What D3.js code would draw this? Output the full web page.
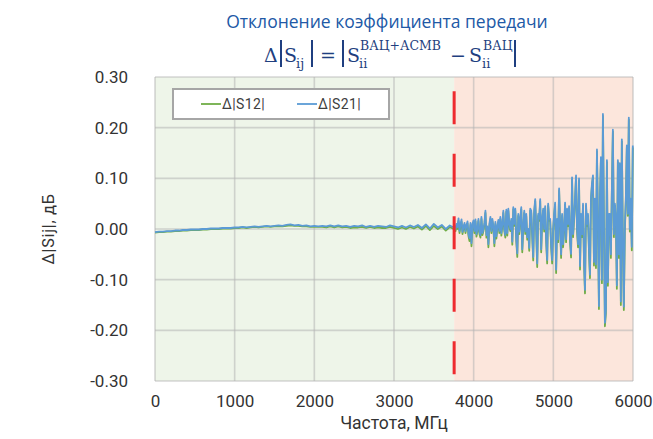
<!DOCTYPE html>
<html><head><meta charset="utf-8">
<script src="https://cdn.jsdelivr.net/npm/d3@7"></script>
<style>body{margin:0;background:#fff}svg{display:block}</style>
</head><body>
<svg id="c" width="653" height="439"></svg>
<script>
// ---- data ----
const xTicks = [0,1000,2000,3000,4000,5000,6000];
const yTicks = [-0.3,-0.2,-0.1,0,0.1,0.2,0.3];
const boundaryFreq = 3755;
const lfStep = 50; // 0..3750
const lfS21 = [
-0.006,-0.005,-0.005,-0.004,-0.004,-0.003,-0.003,-0.002,-0.002,-0.001,
-0.001,-0.001,0.000,0.000,0.001,0.001,0.001,0.002,0.002,0.002,
0.003,0.003,0.004,0.003,0.004,0.005,0.004,0.005,0.006,0.005,
0.006,0.007,0.006,0.008,0.009,0.007,0.008,0.006,0.007,0.005,
0.006,0.005,0.006,0.005,0.007,0.005,0.007,0.005,0.006,0.004,
0.006,0.005,0.007,0.004,0.006,0.004,0.006,0.005,0.004,0.007,
0.005,0.003,0.006,0.003,0.007,0.004,0.008,0.002,0.009,0.001,
0.010,0.003,0.008,0.000,0.007,0.003];
const lfS12 = [
-0.007,-0.006,-0.006,-0.005,-0.005,-0.004,-0.004,-0.003,-0.003,-0.002,
-0.002,-0.002,-0.001,-0.001,0.000,0.000,0.000,0.001,0.001,0.001,
0.002,0.002,0.003,0.002,0.003,0.004,0.003,0.004,0.005,0.004,
0.005,0.005,0.005,0.006,0.007,0.006,0.006,0.005,0.005,0.004,
0.004,0.004,0.004,0.003,0.005,0.003,0.005,0.003,0.004,0.002,
0.003,0.003,0.004,0.002,0.004,0.002,0.003,0.002,0.002,0.004,
0.002,0.000,0.003,0.000,0.004,0.001,0.005,-0.001,0.006,-0.002,
0.006,0.000,0.005,-0.003,0.004,0.000];
const hfStart = 3760, hfStep = 12.5; // 3760..5997.5
const hfS21 = [
0.005,0.000,0.010,0.004,0.021,-0.004,0.010,0.019,-0.006,0.005,
0.012,-0.004,0.008,0.015,-0.010,-0.018,0.012,-0.028,0.010,0.017,
-0.004,0.019,-0.010,0.000,0.020,-0.006,-0.012,0.024,-0.008,0.000,
0.012,0.036,-0.012,0.005,-0.030,0.010,0.024,-0.004,0.020,0.005,
-0.028,0.014,-0.014,0.005,0.018,-0.004,
0.024,-0.008,0.010,0.036,0.000,-0.012,0.038,-0.008,0.040,0.010,
0.000,0.020,-0.025,0.043,0.010,0.040,-0.020,-0.048,0.030,-0.005,
0.021,0.043,-0.040,0.005,0.036,-0.005,0.030,-0.016,0.000,-0.037,
0.040,0.036,-0.010,-0.055,0.036,0.059,0.000,-0.068,0.030,0.020,
0.059,-0.040,0.020,0.040,0.000,0.045,-0.020,-0.061,0.050,0.020,
0.020,-0.030,-0.061,0.000,0.030,0.052,-0.080,0.020,-0.020,0.080,
0.010,-0.050,0.030,-0.030,0.000,0.052,-0.020,0.040,0.010,0.045,
-0.020,-0.049,0.102,-0.010,0.020,0.060,0.106,0.000,-0.030,0.100,
-0.073,0.030,-0.010,0.050,-0.060,-0.120,0.050,0.010,0.030,-0.040,
-0.090,0.060,0.090,0.106,-0.065,0.060,-0.070,0.157,0.020,-0.152,
0.060,0.142,-0.100,0.227,0.020,-0.185,-0.159,0.136,-0.105,0.030,
0.030,-0.050,0.080,0.196,-0.010,0.050,0.020,-0.111,0.136,-0.050,
0.130,-0.143,0.177,-0.020,-0.153,0.000,0.060,0.165,0.030,0.220,
0.000,0.060,-0.035,0.165];
const hfS12 = [
0.002,-0.004,0.007,0.000,0.016,-0.008,0.006,0.014,-0.010,0.002,
0.008,-0.008,0.004,0.011,-0.014,-0.024,0.008,-0.034,0.006,0.013,
-0.008,0.015,-0.015,-0.004,0.016,-0.010,-0.017,0.020,-0.012,-0.004,
0.008,0.032,-0.017,0.001,-0.036,0.006,0.020,-0.008,0.016,0.001,
-0.034,0.010,-0.019,0.001,0.014,-0.008,
0.020,-0.013,0.006,0.032,-0.004,-0.017,0.034,-0.013,0.036,0.006,
-0.004,0.016,-0.031,0.039,0.006,0.036,-0.025,-0.055,0.026,-0.010,
0.017,0.039,-0.046,0.001,0.032,-0.010,0.026,-0.021,-0.004,-0.043,
0.036,0.032,-0.015,-0.062,0.032,0.055,-0.005,-0.075,0.026,0.016,
0.055,-0.046,0.016,0.036,-0.005,0.041,-0.025,-0.068,0.046,0.016,
0.016,-0.036,-0.068,-0.005,0.026,0.048,-0.087,0.016,-0.026,0.076,
0.005,-0.057,0.026,-0.036,-0.005,0.048,-0.026,0.036,0.005,0.041,
-0.026,-0.056,0.098,-0.016,0.016,0.056,0.102,-0.005,-0.036,0.096,
-0.080,0.026,-0.016,0.046,-0.066,-0.127,0.046,0.005,0.026,-0.046,
-0.097,0.056,0.086,0.102,-0.072,0.056,-0.077,0.153,0.015,-0.158,
0.056,0.138,-0.107,0.223,0.015,-0.192,-0.166,0.132,-0.112,0.026,
0.026,-0.057,0.076,0.192,-0.016,0.046,0.015,-0.118,0.132,-0.057,
0.126,-0.150,0.173,-0.026,-0.160,-0.005,0.056,0.161,0.026,0.216,
-0.005,0.056,-0.042,0.161];
const seriesNames = ["Δ|S12|","Δ|S21|"];
const seriesColors = ["#70ad47","#5b9bd5"];

// ---- build ----
function build(lf, hf){
  const pts = lf.map((v,i)=>({f:i*lfStep, v}));
  hf.forEach((v,i)=>pts.push({f:hfStart+i*hfStep, v}));
  return pts;
}
const series = [build(lfS12,hfS12), build(lfS21,hfS21)];

const svg = d3.select("#c");
const x = d3.scaleLinear([0,6000],[155,633]);
const y = d3.scaleLinear([-0.3,0.3],[381,77]);

// regions
svg.append("rect").attr("x",x(0)).attr("y",y(0.3)).attr("width",x(boundaryFreq)-x(0)).attr("height",y(-0.3)-y(0.3)).attr("fill","#eef5e9");
svg.append("rect").attr("x",x(boundaryFreq)).attr("y",y(0.3)).attr("width",x(6000)-x(boundaryFreq)).attr("height",y(-0.3)-y(0.3)).attr("fill","#fce6dc");

// grid
const grid = svg.append("g").attr("stroke","#b4b4b4").attr("stroke-opacity",0.55).attr("stroke-width",1.6);
xTicks.forEach(t=>grid.append("line").attr("x1",x(t)).attr("x2",x(t)).attr("y1",y(0.3)).attr("y2",y(-0.3)));
yTicks.forEach(t=>grid.append("line").attr("x1",x(0)).attr("x2",x(6000)).attr("y1",y(t)).attr("y2",y(t)));

// axes
const xAxis = svg.append("g").attr("transform",`translate(0,${y(-0.3)})`)
  .call(d3.axisBottom(x).tickValues(xTicks).tickFormat(d3.format("d")).tickSize(0).tickPadding(14));
const yAxis = svg.append("g").attr("transform",`translate(${x(0)},0)`)
  .call(d3.axisLeft(y).tickValues(yTicks).tickFormat(d3.format(".2f")).tickSize(0).tickPadding(27));
[xAxis,yAxis].forEach(a=>{a.select(".domain").remove();
  a.selectAll("text").attr("font-family","Roboto, sans-serif").attr("font-size","17px").attr("fill","#333");});
yAxis.selectAll("text").text(d=>d3.format(".2f")(d).replace("−","-"));

// lines
const line = d3.line().x(d=>x(d.f)).y(d=>y(d.v));
series.forEach((s,i)=>svg.append("path").datum(s).attr("d",line).attr("fill","none")
  .attr("stroke",seriesColors[i]).attr("stroke-width",1.8).attr("stroke-linejoin","round"));

// boundary dashed line
svg.append("line").attr("x1",x(boundaryFreq)).attr("x2",x(boundaryFreq))
  .attr("y1",y(0.272)).attr("y2",y(-0.288))
  .attr("stroke","#ee2b2f").attr("stroke-width",3).attr("stroke-dasharray","33,29.5");

// legend
const lg = svg.append("g");
lg.append("rect").attr("x",173).attr("y",89).attr("width",216).attr("height",30)
  .attr("fill","#fff").attr("stroke","#a6a6a6").attr("stroke-width",2);
const lx = [201,297];
seriesNames.forEach((n,i)=>{
  lg.append("line").attr("x1",lx[i]).attr("x2",lx[i]+20).attr("y1",104).attr("y2",104)
    .attr("stroke",seriesColors[i]).attr("stroke-width",1.8);
  lg.append("text").attr("x",lx[i]+21).attr("y",109).text(n)
    .attr("font-family","Roboto, sans-serif").attr("font-size","14px").attr("letter-spacing","0.4px").attr("fill","#404040");
});

// axis titles
svg.append("text").attr("x",394).attr("y",429).attr("text-anchor","middle").text("Частота, МГц")
  .attr("font-family","Roboto, sans-serif").attr("font-size","17.5px").attr("fill","#333");
svg.append("text").attr("transform","translate(54,229) rotate(-90)").attr("text-anchor","middle").text("Δ|Sij|, дБ")
  .attr("font-family","Roboto, sans-serif").attr("font-size","16px").attr("letter-spacing","0.8px").attr("fill","#333");

// title
svg.append("text").attr("x",387).attr("y",28).attr("text-anchor","middle").text("Отклонение коэффициента передачи")
  .attr("font-family","'Open Sans', sans-serif").attr("font-size","17.5px").attr("fill","#2159a6");
const ff = "'DejaVu Serif', serif", fc = "#1f3f80";
function tx(xp,yp,s,size){return svg.append("text").attr("x",xp).attr("y",yp).text(s)
  .attr("font-family",ff).attr("font-size",size+"px").attr("fill",fc);}
function bar(xp){return svg.append("line").attr("x1",xp).attr("x2",xp).attr("y1",40).attr("y2",67)
  .attr("stroke",fc).attr("stroke-width",2);}
tx(264,62,"Δ",19);
bar(281);
tx(284,62,"S",19);
tx(296,68,"ij",13);
bar(312);
tx(320,62,"=",19);
bar(343);
tx(347,62,"S",19);
tx(359,68,"ii",13);
tx(360,50,"ВАЦ+АСМВ",12.5);
tx(450,62,"−",19);
tx(469,62,"S",19);
tx(482,68,"ii",13);
tx(483,50,"ВАЦ",12.5);
bar(515);
</script>
</body></html>
